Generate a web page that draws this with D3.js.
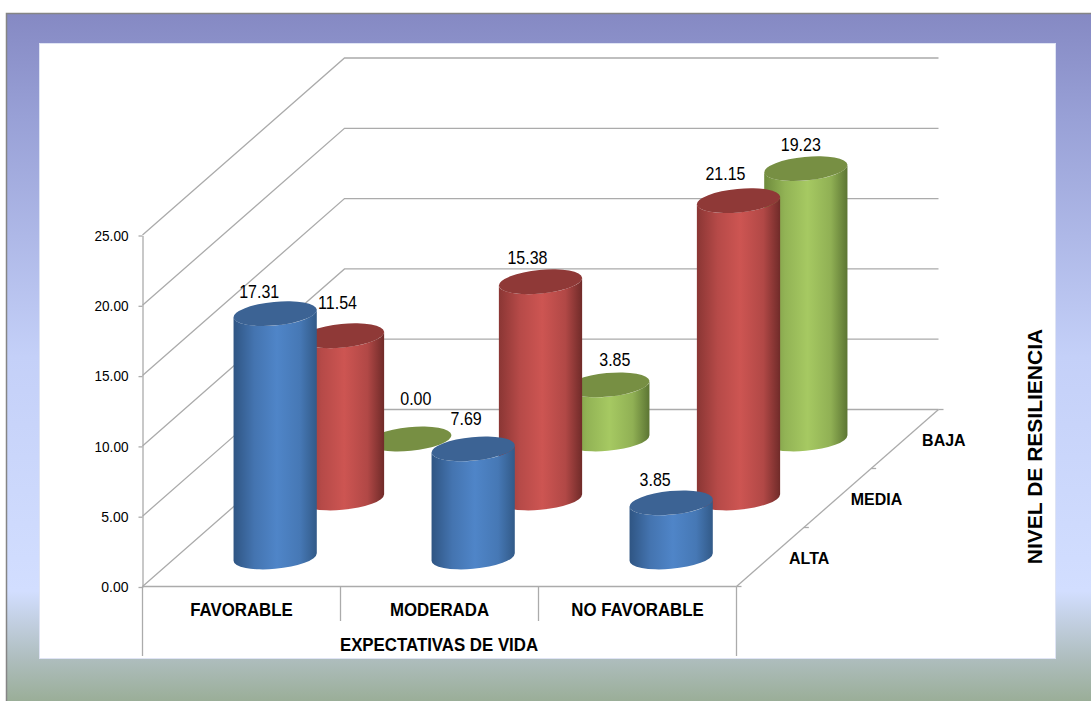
<!DOCTYPE html>
<html>
<head>
<meta charset="utf-8">
<script src="https://cdn.jsdelivr.net/npm/d3@7"></script>
<style>
  html, body { margin: 0; padding: 0; background: #fff; overflow: hidden; }
  text { font-family: "Liberation Sans", Arial, sans-serif; fill: #000; }
</style>
</head>
<body>
<div id="vis"></div>
<script>
// Chart values
const categories = ['FAVORABLE', 'MODERADA', 'NO FAVORABLE'];
const seriesNames = ['ALTA', 'MEDIA', 'BAJA'];
const alta = [17.31, 7.69, 3.85];
const media = [11.54, 15.38, 21.15];
const baja = [0.00, 3.85, 19.23];
const valueTicks = [0, 5, 10, 15, 20, 25];

const width = 1091;
const height = 701;

// Hand placed data labels, offset from the top of each cylinder [dx, dy]
const labelNudge = {
    ALTA: [[-16, -22], [-7, -30], [-16, -23]],
    MEDIA: [[-5, -33], [-13, -24], [-13, -27]],
    BAJA: [[6, -40], [7, -25], [-5, -24]]
};

const colours = {
    ALTA: { edgeL: '#2f5583', mid: '#4f85c8', edgeR: '#325a88', top: '#3c6394' },
    MEDIA: { edgeL: '#8a3634', mid: '#cd5552', edgeR: '#702b29', top: '#8f3937' },
    BAJA: { edgeL: '#6e8a3c', mid: '#a6c962', edgeR: '#5c7533', top: '#778f43' }
};

let svg = d3.select('#vis')
    .append('svg')
    .attr('width', width)
    .attr('height', height)
    .style('display', 'block');

const defs = svg.append('defs');

// Page background gradient
const bg = defs.append('linearGradient')
    .attr('id', 'bg')
    .attr('x1', 0).attr('x2', 0).attr('y1', 0).attr('y2', 1);
[[0, '#8589c3'], [0.15, '#98a0d6'], [0.5, '#c4d0f8'], [0.84, '#d2deff'], [0.94, '#aebdbd'], [1, '#9aae98']]
    .forEach(s => bg.append('stop').attr('offset', s[0]).attr('stop-color', s[1]));

svg.append('rect')
    .attr('x', 6).attr('y', 13)
    .attr('width', width - 6).attr('height', height - 13)
    .attr('fill', 'url(#bg)');
svg.append('path')
    .attr('d', `M6.5,${height}V13.5H${width}`)
    .attr('fill', 'none')
    .attr('stroke', '#858585')
    .attr('stroke-width', 1.5);

// Chart panel
svg.append('rect')
    .attr('x', 39.5).attr('y', 43.5)
    .attr('width', 1016).attr('height', 615)
    .attr('fill', '#fff')
    .attr('stroke', '#dfe4f4');

// Front plane scales
const xScale = d3.scaleBand().domain(categories).range([142.5, 736.5]);
const yScale = d3.scaleLinear().domain([0, 25]).range([586.5, 235]);

// Depth runs from the front plane (0) to the back wall (1)
const depth = d3.scaleBand().domain(seriesNames).range([0, 1]);
const depthX = d3.scaleLinear().domain([0, 1]).range([0, 202]);
const depthY = d3.scaleLinear().domain([0, 1]).range([0, -177]);

const xLeft = xScale.range()[0];
const xRight = xScale.range()[1];
const yFloor = yScale(0);

const gridColour = '#ababab';
const grid = svg.append('g')
    .attr('fill', 'none')
    .attr('stroke', gridColour)
    .attr('stroke-width', 1.3);

// Side and back wall gridlines
valueTicks.forEach(v => {
    const y = yScale(v);
    grid.append('path')
        .attr('d', `M${xLeft},${y}L${xLeft + depthX(1)},${y + depthY(1)}H${xRight + depthX(1)}`);
});

// Floor edge on the right, with its ticks
grid.append('line')
    .attr('x1', xRight).attr('y1', yFloor)
    .attr('x2', xRight + depthX(1)).attr('y2', yFloor + depthY(1));
[0, 1 / 3, 2 / 3, 1].forEach(d => {
    const px = xRight + depthX(d);
    const py = yFloor + depthY(d);
    grid.append('line')
        .attr('x1', px).attr('y1', py)
        .attr('x2', px + 5).attr('y2', py);
});

// Front axis line and the category dividers
grid.append('line').attr('x1', xLeft).attr('x2', xRight).attr('y1', yFloor).attr('y2', yFloor);
grid.append('line').attr('x1', xLeft).attr('x2', xLeft).attr('y1', yFloor).attr('y2', 656);
grid.append('line').attr('x1', xRight).attr('x2', xRight).attr('y1', yFloor).attr('y2', 656);
categories.slice(1).forEach(c => {
    grid.append('line')
        .attr('x1', xScale(c)).attr('x2', xScale(c))
        .attr('y1', yFloor).attr('y2', 621);
});

// Value axis
const yAxis = d3.axisLeft(yScale)
    .tickValues(valueTicks)
    .tickFormat(d3.format('.2f'))
    .tickSize(4)
    .tickSizeOuter(0)
    .tickPadding(10);
const yAxisG = svg.append('g')
    .attr('transform', `translate(${xLeft},0.5)`)
    .call(yAxis);
yAxisG.selectAll('path, line').attr('stroke', gridColour).attr('stroke-width', 1.3);
yAxisG.selectAll('text')
    .attr('font-family', '"Liberation Sans", Arial, sans-serif')
    .attr('font-size', 15)
    .attr('fill', '#222')
    .attr('textLength', d => d3.format('.2f')(d).length * 6.8)
    .attr('lengthAdjust', 'spacingAndGlyphs');

// One horizontal shading per series
seriesNames.forEach(name => {
    const c = colours[name];
    const g = defs.append('linearGradient')
        .attr('id', 'side-' + name)
        .attr('x1', 0).attr('x2', 1).attr('y1', 0).attr('y2', 0);
    [[0, c.edgeL], [0.25, d3.interpolateRgb(c.edgeL, c.mid)(0.65)], [0.52, c.mid], [0.8, d3.interpolateRgb(c.edgeR, c.mid)(0.7)], [1, c.edgeR]]
        .forEach(s => g.append('stop').attr('offset', s[0]).attr('stop-color', s[1]));
});

// Cylinder shape: tilted ellipses, rising to the right
const rx = 41.8;
const ry = 11.8;
const tiltDeg = 5.5;
const tilt = tiltDeg * Math.PI / 180;
const edgeX = Math.sqrt(rx * rx * Math.cos(tilt) ** 2 + ry * ry * Math.sin(tilt) ** 2);
const edgeY = (rx * rx - ry * ry) * Math.sin(tilt) * Math.cos(tilt) / edgeX;

function sidePath(cx, yTop, yBase) {
    return `M${cx - edgeX},${yTop + edgeY}`
        + `L${cx - edgeX},${yBase + edgeY}`
        + `A${rx},${ry} ${-tiltDeg} 0 0 ${cx + edgeX},${yBase - edgeY}`
        + `L${cx + edgeX},${yTop - edgeY}`
        + `A${rx},${ry} ${-tiltDeg} 0 1 ${cx - edgeX},${yTop + edgeY}Z`;
}

const seriesValues = { ALTA: alta, MEDIA: media, BAJA: baja };

// Draw from the back row to the front row so nearer cylinders cover farther ones
const marks = seriesNames.slice().reverse().flatMap(name =>
    categories.map((cat, i) => ({ name, cat, i, value: seriesValues[name][i] })));

const bars = svg.append('g');
marks.forEach(d => {
    const dd = depth(d.name) + depth.bandwidth() / 2;
    d.cx = xScale(d.cat) + xScale.bandwidth() / 2 + depthX(dd);
    d.yBase = yScale(0) + depthY(dd);
    d.yTop = yScale(d.value) + depthY(dd);

    if (d.value > 0) {
        bars.append('path')
            .attr('d', sidePath(d.cx, d.yTop, d.yBase))
            .attr('fill', `url(#side-${d.name})`);
    }
    bars.append('ellipse')
        .attr('rx', rx)
        .attr('ry', ry)
        .attr('transform', `translate(${d.cx},${d.yTop}) rotate(${-tiltDeg})`)
        .attr('fill', colours[d.name].top);
});

// The picture has tall, slightly squeezed type, so text is set larger and narrowed
function squeezed(sel, size, sx) {
    sel.attr('font-size', size)
        .attr('text-anchor', 'middle')
        .attr('dy', '0.35em')
        .attr('transform', function () {
            const x = +d3.select(this).attr('data-x');
            const y = +d3.select(this).attr('data-y');
            return `translate(${x},${y}) scale(${sx},1)`;
        });
}

// Data labels
svg.append('g')
    .selectAll('text')
    .data(marks)
    .join('text')
    .attr('data-x', d => d.cx + labelNudge[d.name][d.i][0])
    .attr('data-y', d => d.yTop + labelNudge[d.name][d.i][1])
    .call(squeezed, 18, 0.89)
    .text(d => d3.format('.2f')(d.value));

// Category labels
svg.append('g')
    .selectAll('text')
    .data(categories)
    .join('text')
    .attr('data-x', d => xScale(d) + xScale.bandwidth() / 2)
    .attr('data-y', 610)
    .attr('font-weight', 'bold')
    .call(squeezed, 18.5, 0.91)
    .text(d => d);

svg.append('text')
    .attr('data-x', 439)
    .attr('data-y', 645)
    .attr('font-weight', 'bold')
    .call(squeezed, 18.5, 0.91)
    .text('EXPECTATIVAS DE VIDA');

// Series labels along the floor edge
svg.append('g')
    .selectAll('text')
    .data(seriesNames)
    .join('text')
    .attr('data-x', d => xRight + depthX(depth(d) + depth.bandwidth() / 2) + 39)
    .attr('data-y', d => yFloor + depthY(depth(d) + depth.bandwidth() / 2) + 1.5)
    .attr('font-weight', 'bold')
    .call(squeezed, 17, 0.94)
    .text(d => d);

svg.append('text')
    .attr('transform', 'translate(1035,446.5) rotate(-90)')
    .attr('dy', '0.35em')
    .attr('text-anchor', 'middle')
    .attr('font-size', 21)
    .attr('font-weight', 'bold')
    .text('NIVEL DE RESILIENCIA');
</script>
</body>
</html>
